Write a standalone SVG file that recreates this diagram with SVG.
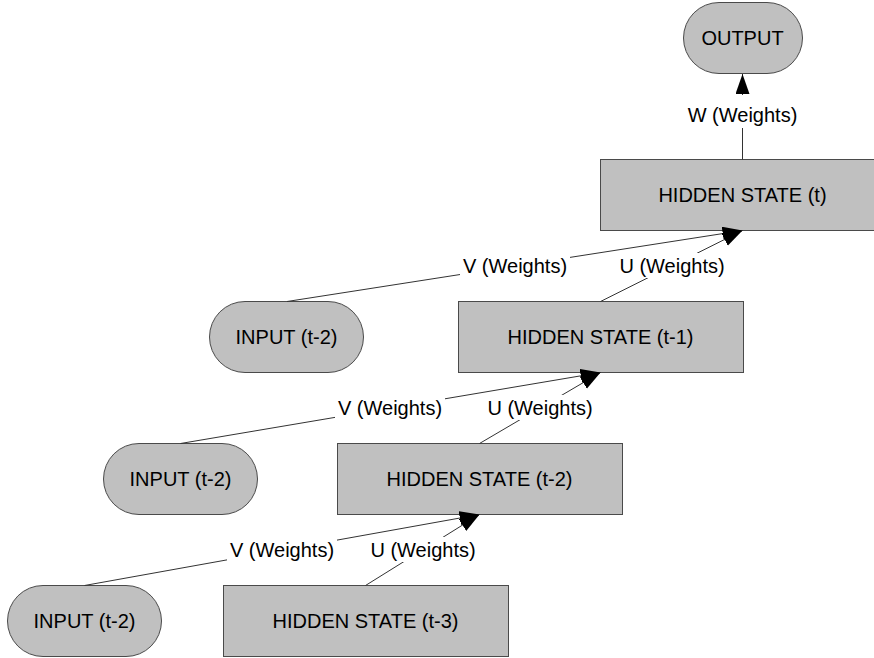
<svg xmlns="http://www.w3.org/2000/svg" width="874" height="658" viewBox="0 0 874 658">
  <style>
    .node { fill: #c0c0c0; stroke: #4a4a4a; stroke-width: 1; }
    .txt { font-family: "Liberation Sans", Arial, sans-serif; font-size: 20px; fill: #000; text-anchor: middle; }
    .edge { fill: none; stroke: #333; stroke-width: 1; marker-end: url(#arrow); }
    .lblbg { fill: #fff; }
  </style>
  <defs>
    <marker id="arrow" markerUnits="userSpaceOnUse" markerWidth="22" markerHeight="16" refX="20" refY="7" orient="auto">
      <path d="M0,0 L20,7 L0,14 Z" fill="#000"/>
    </marker>
  </defs>
  <rect width="874" height="658" fill="#fff"/>

  <!-- nodes -->
  <g id="output">
    <rect class="node" x="683.5" y="2.5" width="119" height="71" rx="35.5"/>
    <text class="txt" x="742.5" y="45">OUTPUT</text>
  </g>
  <g id="hidden-t">
    <rect class="node" x="600.5" y="159.5" width="285" height="71"/>
    <text class="txt" x="742.5" y="202">HIDDEN STATE (t)</text>
  </g>
  <g id="hidden-t1">
    <rect class="node" x="458.5" y="301.5" width="285" height="71"/>
    <text class="txt" x="600.5" y="344">HIDDEN STATE (t-1)</text>
  </g>
  <g id="input-a">
    <rect class="node" x="209.5" y="301.5" width="154" height="71" rx="35.5"/>
    <text class="txt" x="286.5" y="344">INPUT (t-2)</text>
  </g>
  <g id="hidden-t2">
    <rect class="node" x="337.5" y="443.5" width="285" height="71"/>
    <text class="txt" x="479.5" y="486">HIDDEN STATE (t-2)</text>
  </g>
  <g id="input-b">
    <rect class="node" x="103.5" y="443.5" width="154" height="71" rx="35.5"/>
    <text class="txt" x="180.5" y="486">INPUT (t-2)</text>
  </g>
  <g id="hidden-t3">
    <rect class="node" x="223.5" y="585.5" width="285" height="71"/>
    <text class="txt" x="365.5" y="628">HIDDEN STATE (t-3)</text>
  </g>
  <g id="input-c">
    <rect class="node" x="7.5" y="585.5" width="154" height="71" rx="35.5"/>
    <text class="txt" x="84.5" y="628">INPUT (t-2)</text>
  </g>

  <!-- connectors with their weight labels -->
  <g id="connectors">
    <path class="edge" d="M742.5,159.5 L742.5,74"/>
    <path class="edge" d="M287,301.5 L742.5,230.5"/>
    <path class="edge" d="M600.5,301.5 L742.5,230.5"/>
    <path class="edge" d="M180.5,443.5 L600.5,372.5"/>
    <path class="edge" d="M479.5,443.5 L600.5,372.5"/>
    <path class="edge" d="M84.5,585.5 L479.5,514.5"/>
    <path class="edge" d="M365.5,585.5 L479.5,514.5"/>

    <rect class="lblbg" x="687" y="95" width="111" height="33"/>
    <text class="txt" x="742.5" y="122">W (Weights)</text>

    <rect class="lblbg" x="460" y="253" width="110" height="25"/>
    <text class="txt" x="515" y="273">V (Weights)</text>
    <rect class="lblbg" x="617" y="253" width="110" height="25"/>
    <text class="txt" x="672" y="273">U (Weights)</text>

    <rect class="lblbg" x="335" y="395" width="110" height="25"/>
    <text class="txt" x="390" y="415">V (Weights)</text>
    <rect class="lblbg" x="485" y="395" width="110" height="25"/>
    <text class="txt" x="540" y="415">U (Weights)</text>

    <rect class="lblbg" x="227" y="537" width="110" height="25"/>
    <text class="txt" x="282" y="557">V (Weights)</text>
    <rect class="lblbg" x="368" y="537" width="110" height="25"/>
    <text class="txt" x="423" y="557">U (Weights)</text>
  </g>
</svg>
